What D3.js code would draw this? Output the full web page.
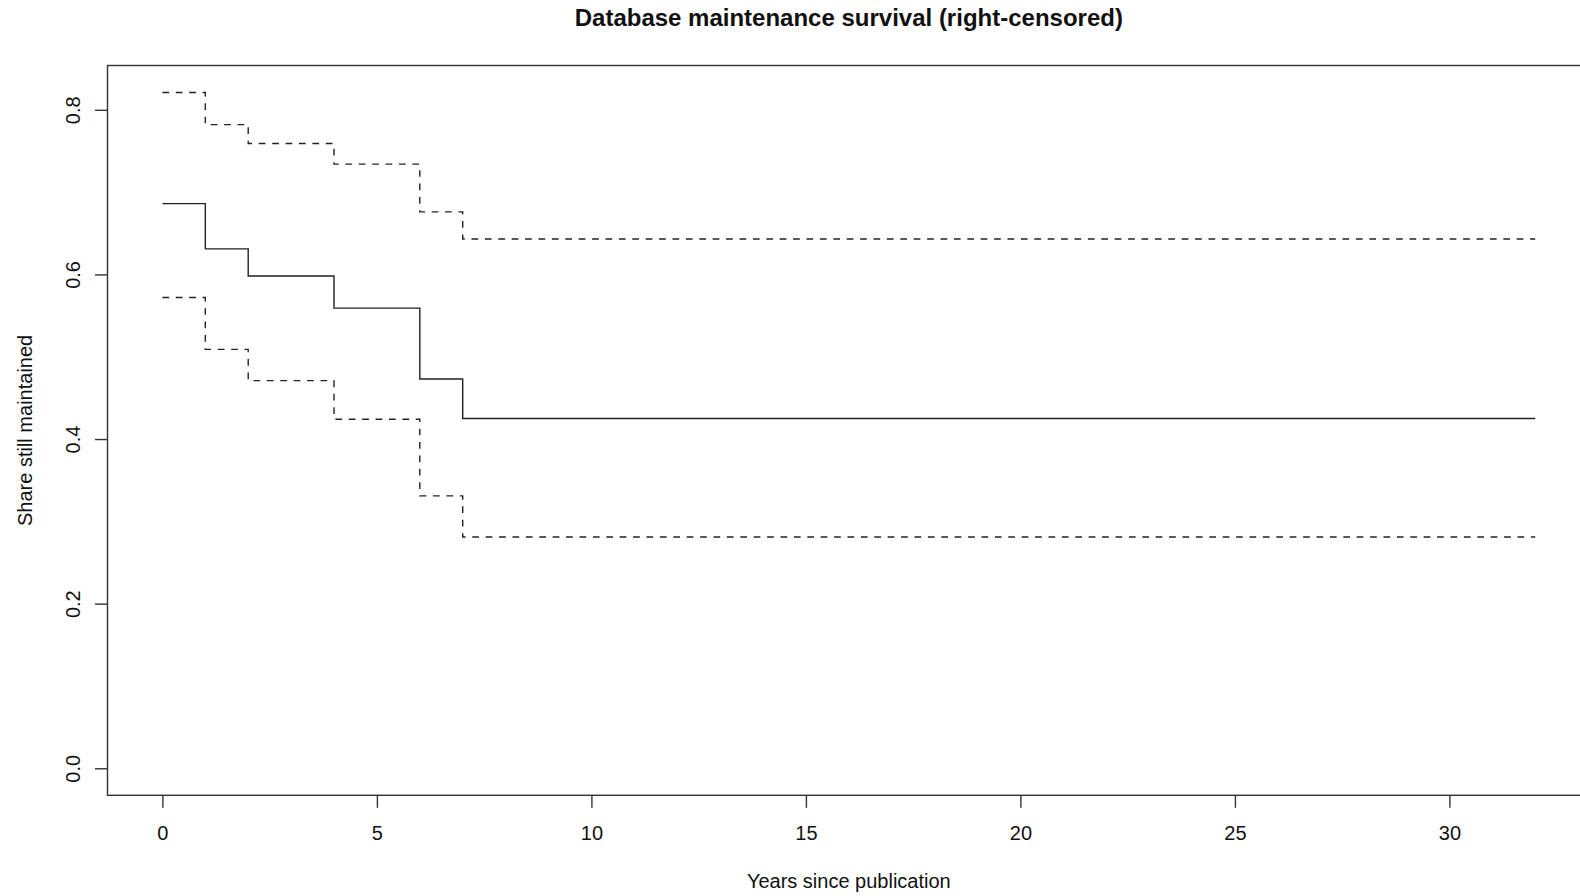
<!DOCTYPE html>
<html>
<head>
<meta charset="utf-8">
<script src="https://cdn.jsdelivr.net/npm/d3@7"></script>
<style>
  body { margin: 0; background: #fff; }
  text { font-family: "Liberation Sans", Arial, Helvetica, sans-serif; fill: #111; }
</style>
</head>
<body>
<svg id="Chart"></svg>
<script>

// Kaplan-Meier estimate
const times = [0, 1, 2, 4, 6, 7];
const endTime = 32;
const surv  = [0.686, 0.631, 0.598, 0.559, 0.473, 0.425];
const upper = [0.821, 0.782, 0.759, 0.734, 0.676, 0.643];
const lower = [0.572, 0.509, 0.471, 0.424, 0.331, 0.281];

const xTicks = [0, 5, 10, 15, 20, 25, 30];
const yTicks = [0, 0.2, 0.4, 0.6, 0.8];

const WidthTotal = 1580;
const HeightTotal = 896;

// plot region (R style, 4% padding of data range)
const plotLeft = 107.5, plotTop = 65.5, plotBottom = 795.3;
const pxPerYear = 42.9;

const svg = d3.select("#Chart")
  .attr("width", WidthTotal)
  .attr("height", HeightTotal);

const xPad = 0.04 * endTime;
const x = d3.scaleLinear()
  .domain([-xPad, endTime + xPad])
  .range([plotLeft, plotLeft + (endTime + 2 * xPad) * pxPerYear]);

const yMax = d3.max(upper);
const yPad = 0.04 * yMax;
const y = d3.scaleLinear()
  .domain([-yPad, yMax + yPad])
  .range([plotBottom, plotTop]);

const plotRight = x.range()[1];

// box round the plot (right side falls off the page)
svg.append("rect")
  .attr("x", plotLeft)
  .attr("y", plotTop)
  .attr("width", plotRight - plotLeft)
  .attr("height", plotBottom - plotTop)
  .attr("fill", "none")
  .attr("stroke", "#333")
  .attr("stroke-width", 1.4);

// axes
const xAxis = svg.append("g")
  .attr("transform", `translate(0,${plotBottom})`)
  .call(d3.axisBottom(x).tickValues(xTicks).tickSize(12.5).tickPadding(0).tickFormat(d3.format("d")));

const yAxis = svg.append("g")
  .attr("transform", `translate(${plotLeft},0)`)
  .call(d3.axisLeft(y).tickValues(yTicks).tickSize(12.5).tickFormat(d3.format(".1f")));

[xAxis, yAxis].forEach(a => {
  a.select(".domain").remove();
  a.selectAll(".tick line").attr("stroke", "#333").attr("stroke-width", 1.4);
  a.selectAll("text").attr("font-size", 20).attr("fill", "#111");
});

xAxis.selectAll(".tick text")
  .attr("y", 840 - plotBottom)
  .attr("dy", 0);

yAxis.selectAll(".tick text")
  .attr("x", 0)
  .attr("dy", 0)
  .attr("text-anchor", "middle")
  .attr("transform", d => `translate(${80 - plotLeft},0) rotate(-90)`);

// step lines
const stepData = vals => times.map((t, i) => [t, vals[i]])
  .concat([[endTime, vals[vals.length - 1]]]);

const line = d3.line()
  .x(d => x(d[0]))
  .y(d => y(d[1]))
  .curve(d3.curveStepAfter);

const series = [
  { vals: upper, dash: "6.7,6.7" },
  { vals: lower, dash: "6.7,6.7" },
  { vals: surv, dash: null }
];

svg.selectAll(".km")
  .data(series)
  .enter()
  .append("path")
    .attr("class", "km")
    .attr("d", d => line(stepData(d.vals)))
    .attr("fill", "none")
    .attr("stroke", "#222")
    .attr("stroke-width", 1.4)
    .attr("stroke-dasharray", d => d.dash);

// titles
const midX = (plotLeft + plotRight) / 2;

svg.append("text")
  .attr("x", midX)
  .attr("y", 26)
  .attr("text-anchor", "middle")
  .attr("font-size", 24)
  .attr("font-weight", "bold")
  .text("Database maintenance survival (right-censored)");

svg.append("text")
  .attr("x", midX)
  .attr("y", 888)
  .attr("text-anchor", "middle")
  .attr("font-size", 20)
  .text("Years since publication");

svg.append("text")
  .attr("transform", `translate(31.5,${(plotTop + plotBottom) / 2}) rotate(-90)`)
  .attr("text-anchor", "middle")
  .attr("font-size", 20)
  .text("Share still maintained");

</script>
</body>
</html>
